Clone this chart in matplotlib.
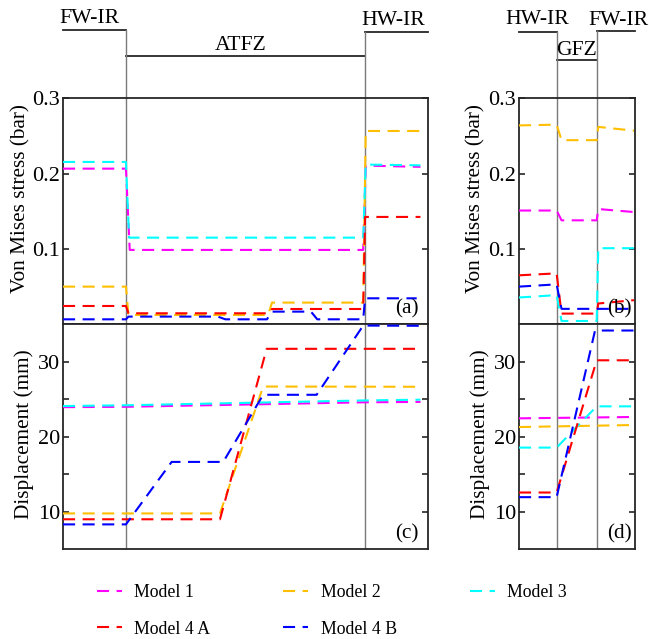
import matplotlib
matplotlib.use("Agg")
import matplotlib.pyplot as plt
import matplotlib.transforms as mtransforms

plt.rcParams['font.family'] = ['Liberation Serif', 'DejaVu Serif']

COLORS = {'m1': '#ff00ff', 'm2': '#ffbf00', 'm3': '#00ffff', 'm4a': '#ff0000', 'm4b': '#0000ff'}
LABELS = {'m1': 'Model 1', 'm2': 'Model 2', 'm3': 'Model 3', 'm4a': 'Model 4 A', 'm4b': 'Model 4 B'}
DASH = (0, (5.8, 3.6))

# --- left profile (FW-IR | ATFZ | HW-IR), distance units 0..29 ---
left_bounds = [5.0, 24.0]
left_xlim = (0, 29)
left_zones = ['FW-IR', 'ATFZ', 'HW-IR']

# stress (a)
a_m1_x = [0, 5.0, 5.3, 23.85, 24.05, 28.4]
a_m1_y = [0.2066, 0.2066, 0.0987, 0.0987, 0.2106, 0.209]
a_m2_x = [0, 5.0, 5.2, 16.3, 16.6, 23.85, 24.05, 28.4]
a_m2_y = [0.050, 0.050, 0.0124, 0.0124, 0.0288, 0.0288, 0.2566, 0.2566]
a_m3_x = [0, 5.0, 5.25, 23.85, 24.05, 28.4]
a_m3_y = [0.2155, 0.2155, 0.115, 0.115, 0.212, 0.211]
a_m4a_x = [0, 5.0, 5.2, 16.4, 16.6, 23.85, 24.0, 28.4]
a_m4a_y = [0.0243, 0.0243, 0.0146, 0.0146, 0.0203, 0.0203, 0.1425, 0.1425]
a_m4b_x = [0, 5.0, 5.2, 12.3, 12.9, 16.2, 16.6, 19.7, 20.2, 23.85, 24.0, 28.1]
a_m4b_y = [0.0066, 0.0066, 0.0102, 0.0102, 0.0066, 0.0066, 0.0168, 0.0168,
           0.0066, 0.0066, 0.0345, 0.0345]

# displacement (c)
c_m1_x = [0, 5.0, 24.0, 28.4]
c_m1_y = [23.95, 24.0, 24.6, 24.65]
c_m2_x = [0, 12.47, 15.9, 28.4]
c_m2_y = [9.78, 9.78, 26.7, 26.67]
c_m3_x = [0, 5.0, 24.0, 28.4]
c_m3_y = [24.1, 24.2, 24.85, 24.95]
c_m4a_x = [0, 12.47, 16.18, 28.4]
c_m4a_y = [9.0, 9.0, 31.73, 31.73]
c_m4b_x = [0, 5.0, 8.63, 12.73, 15.9, 20.15, 23.85, 28.4]
c_m4b_y = [8.32, 8.32, 16.65, 16.65, 25.6, 25.6, 34.83, 34.8]

# --- right profile (HW-IR | GFZ | FW-IR), distance units 0..9 ---
right_bounds = [2.92, 6.03]
right_xlim = (0, 9)
right_zones = ['HW-IR', 'GFZ', 'FW-IR']

# stress (b)
b_m1_x = [0, 2.92, 3.3, 6.03, 6.15, 8.92]
b_m1_y = [0.151, 0.151, 0.138, 0.138, 0.153, 0.149]
b_m2_x = [0, 2.92, 3.3, 6.03, 6.15, 8.92]
b_m2_y = [0.264, 0.265, 0.2444, 0.2444, 0.262, 0.257]
b_m3_x = [0, 2.92, 3.3, 6.03, 6.15, 8.92]
b_m3_y = [0.0356, 0.0387, 0.0044, 0.0044, 0.101, 0.101]
b_m4a_x = [0, 2.92, 3.3, 6.03, 6.15, 8.92]
b_m4a_y = [0.065, 0.0676, 0.0142, 0.0142, 0.0276, 0.032]
b_m4b_x = [0, 2.92, 3.3, 8.92]
b_m4b_y = [0.050, 0.053, 0.0205, 0.0205]

# displacement (d)
d_m1_x = [0, 8.92]
d_m1_y = [22.46, 22.64]
d_m2_x = [0, 8.92]
d_m2_y = [21.3, 21.57]
d_m3_x = [0, 2.92, 6.03, 8.92]
d_m3_y = [18.56, 18.56, 24.06, 24.06]
d_m4a_x = [0, 2.92, 6.03, 8.92]
d_m4a_y = [12.57, 12.57, 30.2, 30.2]
d_m4b_x = [0, 2.92, 5.9, 8.92]
d_m4b_y = [11.95, 11.95, 34.17, 34.17]

stress_ticks = [0.1, 0.2, 0.3]
disp_ticks = [10, 15, 20, 25, 30]
disp_ticklabels = ['10', '', '20', '', '30']

SPINE = '#262626'
VLINE = '#7a7a7a'
FS = 15.3

fig = plt.figure(figsize=(6.49, 6.39), dpi=100)
ax_a = fig.add_axes([0.0971, 0.4925, 0.5624, 0.3537])
ax_c = fig.add_axes([0.0971, 0.1404, 0.5624, 0.3521])
ax_b = fig.add_axes([0.7997, 0.4925, 0.1787, 0.3537])
ax_d = fig.add_axes([0.7997, 0.1404, 0.1787, 0.3521])

series = {
    ax_a: {'m1': (a_m1_x, a_m1_y), 'm2': (a_m2_x, a_m2_y), 'm3': (a_m3_x, a_m3_y),
           'm4a': (a_m4a_x, a_m4a_y), 'm4b': (a_m4b_x, a_m4b_y)},
    ax_c: {'m1': (c_m1_x, c_m1_y), 'm2': (c_m2_x, c_m2_y), 'm3': (c_m3_x, c_m3_y),
           'm4a': (c_m4a_x, c_m4a_y), 'm4b': (c_m4b_x, c_m4b_y)},
    ax_b: {'m1': (b_m1_x, b_m1_y), 'm2': (b_m2_x, b_m2_y), 'm3': (b_m3_x, b_m3_y),
           'm4a': (b_m4a_x, b_m4a_y), 'm4b': (b_m4b_x, b_m4b_y)},
    ax_d: {'m1': (d_m1_x, d_m1_y), 'm2': (d_m2_x, d_m2_y), 'm3': (d_m3_x, d_m3_y),
           'm4a': (d_m4a_x, d_m4a_y), 'm4b': (d_m4b_x, d_m4b_y)},
}

handles = {}
for ax, data in series.items():
    for key, (xs, ys) in data.items():
        ln, = ax.plot(xs, ys, color=COLORS[key], lw=1.5, linestyle=DASH, zorder=3)
        handles[key] = ln

for ax, xlim, bounds in [(ax_a, left_xlim, left_bounds), (ax_c, left_xlim, left_bounds),
                         (ax_b, right_xlim, right_bounds), (ax_d, right_xlim, right_bounds)]:
    ax.set_xlim(*xlim)
    ax.set_xticks([])
    for b in bounds:
        ax.axvline(b, color=VLINE, lw=1.0, zorder=2)
    for s in ax.spines.values():
        s.set_color(SPINE)
        s.set_linewidth(1.3)
    ax.tick_params(axis='y', direction='in', left=True, right=True, length=4,
                   width=1.2, color=SPINE, labelsize=16, pad=2)

for ax in (ax_a, ax_b):
    ax.set_ylim(0, 0.3)
    ax.set_yticks(stress_ticks)
    ax.set_yticklabels([f'{t:.1f}' for t in stress_ticks])
    ax.set_ylabel('Von Mises stress (bar)', fontsize=FS)
for ax in (ax_c, ax_d):
    ax.set_ylim(5, 35)
    ax.set_yticks(disp_ticks)
    ax.set_yticklabels(disp_ticklabels)
    ax.set_ylabel('Displacement (mm)', fontsize=FS)

ax_a.yaxis.set_label_coords(-0.090, 0.557)
ax_c.yaxis.set_label_coords(-0.079, 0.511)
ax_b.yaxis.set_label_coords(-0.285, 0.557)
ax_d.yaxis.set_label_coords(-0.25, 0.511)

for ax, lab in [(ax_a, '(a)'), (ax_b, '(b)'), (ax_c, '(c)'), (ax_d, '(d)')]:
    ax.text(0.975, 0.025, lab, transform=ax.transAxes, ha='right', va='bottom',
            fontsize=FS, zorder=5)


def zone_header(ax, xlim, bounds, names, levels, label_x, label_y):
    tr = mtransforms.blended_transform_factory(ax.transData, ax.transAxes)
    edges = [xlim[0]] + bounds + [xlim[1]]
    for i in range(3):
        ax.plot([edges[i], edges[i + 1]], [levels[i], levels[i]], color=SPINE, lw=1.3,
                transform=tr, clip_on=False)
        ax.text(label_x[i], label_y[i], names[i], transform=tr, ha='center',
                va='baseline', fontsize=15.6)
    for j, b in enumerate(bounds):
        top = max(levels[j], levels[j + 1])
        ax.plot([b, b], [1, top], color=VLINE, lw=1.0, transform=tr, clip_on=False)


zone_header(ax_a, left_xlim, left_bounds, left_zones, [1.301, 1.186, 1.292],
            [2.1, 14.1, 26.2], [1.333, 1.215, 1.325])
zone_header(ax_b, right_xlim, right_bounds, right_zones, [1.292, 1.168, 1.296],
            [1.4, 4.43, 7.68], [1.329, 1.193, 1.325])

order = ['m1', 'm4a', 'm2', 'm4b', 'm3']
fig.legend([handles[k] for k in order], [LABELS[k] for k in order], ncol=3,
           loc='upper left', bbox_to_anchor=(97 / 649, 1 - 584 / 639), frameon=False,
           fontsize=12.8, handlelength=1.4, handletextpad=0.7, columnspacing=4.1,
           labelspacing=1.1, borderpad=0, borderaxespad=0)

fig.savefig('out.png', dpi=100)
